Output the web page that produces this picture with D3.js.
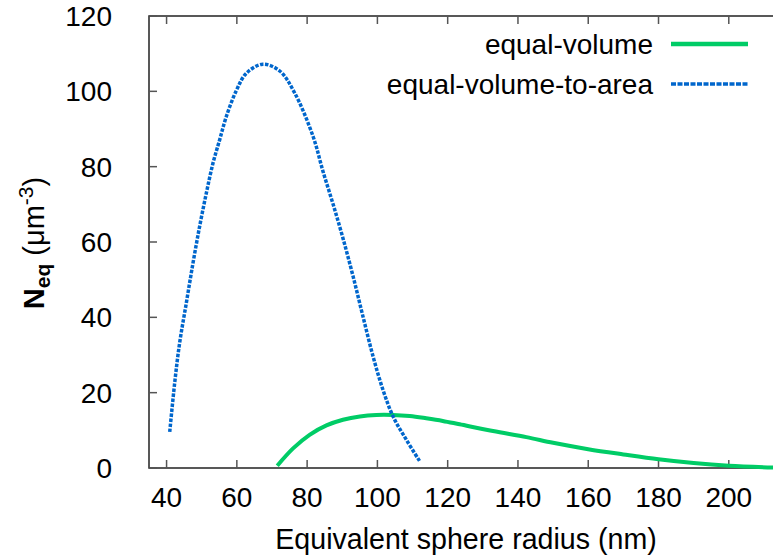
<!DOCTYPE html>
<html>
<head>
<meta charset="utf-8">
<script src="https://cdn.jsdelivr.net/npm/d3@7"></script>
<style>
  body { margin: 0; background: #fff; }
  svg { display: block; font-family: "Liberation Sans", Arial, sans-serif; }
</style>
</head>
<body>
<svg class="chart" width="773" height="560"></svg>
<script>
// radius (nm) and N_eq values
const volRadius = [71.5, 76, 80.7, 85.5, 90.2, 95, 99.7, 104.4, 109.2, 113.9, 118.6, 123.4, 132.9, 142.4, 150, 160, 170, 180, 190, 200, 213];
const volN      = [0.6, 5.2, 8.8, 11.3, 12.8, 13.7, 14.1, 14.1, 13.8, 13.2, 12.5, 11.6, 9.8, 8.2, 6.7, 5.0, 3.6, 2.3, 1.3, 0.6, 0.1];

const areaRadius = [40.9, 42.3, 43.7, 45.6, 47.5, 49.4, 51.3, 53.2, 55.1, 57.0, 59.9, 62.7, 67.4, 72.2, 76.5, 81.7, 84.5, 87.4, 90.2, 93.1, 95.9, 98.8, 101.6, 104.5, 108.3, 112.1];
const areaN      = [9.6, 22.5, 33.1, 43.7, 54.3, 64.1, 72.9, 80.9, 87.1, 93.3, 100.3, 104.8, 107.2, 105.4, 99.5, 88, 78.8, 70, 61, 50.8, 40.2, 29.5, 20.7, 13.6, 7.4, 1.7];

const xTicks = [40, 60, 80, 100, 120, 140, 160, 180, 200];
const yTicks = [0, 20, 40, 60, 80, 100, 120];

const seriesNames = ["equal-volume", "equal-volume-to-area"];

const svg = d3.select('svg.chart');
const fontSize = 28;

const x = d3.scaleLinear().domain([35, 215]).range([149, 781.5]);
const y = d3.scaleLinear().domain([0, 120]).range([468, 16]);

// frame
svg.append('path')
  .attr('d', `M780,${y(120)}H${x(35)}V${y(0)}H780`)
  .attr('fill', 'none')
  .attr('stroke', '#222')
  .attr('stroke-width', 1.5);

// ticks, drawn inward
const tickLen = 8;
svg.selectAll('line.xtick')
  .data(xTicks)
  .enter()
  .append('line')
  .attr('class', 'xtick')
  .attr('x1', d => x(d)).attr('x2', d => x(d))
  .attr('y1', y(0)).attr('y2', y(0) - tickLen)
  .attr('stroke', '#555').attr('stroke-width', 1.5);

svg.selectAll('line.xtickTop')
  .data(xTicks)
  .enter()
  .append('line')
  .attr('class', 'xtickTop')
  .attr('x1', d => x(d)).attr('x2', d => x(d))
  .attr('y1', y(120)).attr('y2', y(120) + tickLen)
  .attr('stroke', '#555').attr('stroke-width', 1.5);

svg.selectAll('line.ytick')
  .data(yTicks)
  .enter()
  .append('line')
  .attr('class', 'ytick')
  .attr('x1', x(35)).attr('x2', x(35) + tickLen)
  .attr('y1', d => y(d)).attr('y2', d => y(d))
  .attr('stroke', '#555').attr('stroke-width', 1.5);

// tick labels
svg.selectAll('text.xlab')
  .data(xTicks)
  .enter()
  .append('text')
  .attr('class', 'xlab')
  .attr('x', d => x(d))
  .attr('y', 507)
  .attr('text-anchor', 'middle')
  .style('font-size', `${fontSize}px`)
  .text(d => d);

svg.selectAll('text.ylab')
  .data(yTicks)
  .enter()
  .append('text')
  .attr('class', 'ylab')
  .attr('x', 112)
  .attr('y', d => y(d))
  .attr('dy', '0.36em')
  .attr('text-anchor', 'end')
  .style('font-size', `${fontSize}px`)
  .text(d => d);

// axis titles
svg.append('text')
  .attr('x', 466)
  .attr('y', 549)
  .attr('text-anchor', 'middle')
  .style('font-size', '28.6px')
  .text('Equivalent sphere radius (nm)');

const yTitle = svg.append('text')
  .attr('transform', 'translate(44, 243) rotate(-90)')
  .attr('text-anchor', 'middle')
  .style('font-size', '29px');
yTitle.append('tspan').style('font-weight', 'bold').text('N');
yTitle.append('tspan').style('font-weight', 'bold').style('font-size', '21px').attr('dy', 6).text('eq');
yTitle.append('tspan').attr('dy', -6).text(' (μm');
yTitle.append('tspan').style('font-size', '21px').attr('dy', -11).text('-3');
yTitle.append('tspan').attr('dy', 11).text(')');

// curves
const line = d3.line()
  .x(d => x(d[0]))
  .y(d => y(d[1]))
  .curve(d3.curveCatmullRom);

svg.append('path')
  .datum(d3.zip(volRadius, volN))
  .attr('d', line)
  .attr('fill', 'none')
  .attr('stroke', '#00cc66')
  .attr('stroke-width', 4);

svg.append('path')
  .datum(d3.zip(areaRadius, areaN))
  .attr('d', line)
  .attr('fill', 'none')
  .attr('stroke', '#0066cc')
  .attr('stroke-width', 3.5)
  .attr('stroke-dasharray', '3.5,1.5');

// legend
const legY = [44, 84];
const legend = svg.selectAll('g.leg')
  .data(seriesNames)
  .enter()
  .append('g')
  .attr('class', 'leg');

legend.append('text')
  .attr('x', 653)
  .attr('y', (d, i) => legY[i])
  .attr('dy', '0.36em')
  .attr('text-anchor', 'end')
  .style('font-size', `${fontSize}px`)
  .text(d => d);

legend.append('line')
  .attr('x1', 671).attr('x2', 748)
  .attr('y1', (d, i) => legY[i]).attr('y2', (d, i) => legY[i])
  .attr('stroke', (d, i) => i == 0 ? '#00cc66' : '#0066cc')
  .attr('stroke-width', (d, i) => i == 0 ? 4.5 : 3.5)
  .attr('stroke-dasharray', (d, i) => i == 0 ? null : '5,1.5');
</script>
</body>
</html>
